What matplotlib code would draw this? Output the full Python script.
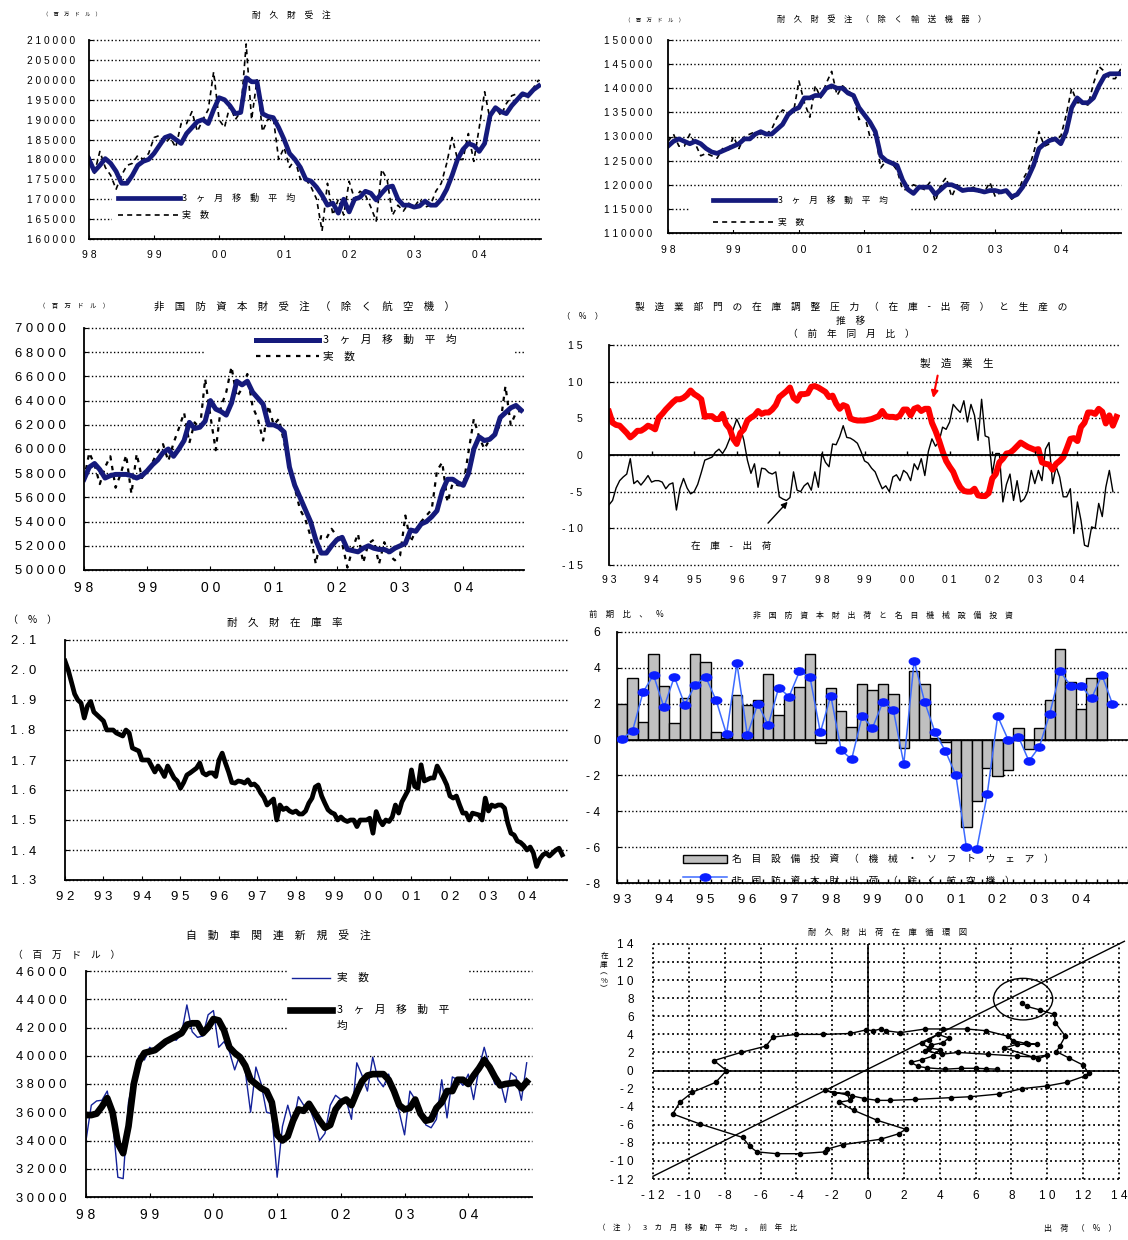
import numpy as np
import matplotlib.pyplot as plt
from matplotlib.lines import Line2D
from matplotlib.patches import Ellipse, Rectangle
from matplotlib.path import Path
from matplotlib.transforms import Affine2D

W, H = 1128, 1240
JP = ['Noto Sans CJK JP', 'DejaVu Sans']
NUM = ['Liberation Sans', 'DejaVu Sans']
NAVY = '#151a7c'
BLUE_THIN = '#14229a'
DOT = dict(color='black', ls=':', lw=1.0)

# 耐久財受注 (百万ドル, 1998/01-2004/12)
dg_ma = [180000, 177000, 178500, 180200, 179000, 177000, 174000, 174000, 176000, 178500, 179500, 180000,
         181500, 183500, 185500, 186000, 185000, 184000, 186500, 188000, 189500, 190000, 189000, 192500,
         195500, 195000, 193500, 191500, 191800, 200500, 199500, 199500, 191500, 190800, 190500, 188000,
         185000, 181500, 180000, 178000, 175000, 174500, 173000, 171000, 168500, 169000, 166500, 170000,
         166800, 170000, 170500, 172000, 171500, 169800, 171500, 173000, 173300, 170000, 168500, 168500,
         168000, 168300, 169500, 168500, 168500, 170000, 172500, 176000, 180000, 182500, 184000, 183500,
         182000, 184000, 191000, 193000, 192000, 191500, 193500, 195000, 196500, 196000, 197500, 198500]
dg_act = [181000, 176500, 182000, 178000, 176000, 172500, 176000, 178500, 179000, 181000, 180000, 181500,
          185500, 186000, 184000, 185500, 183000, 189000, 189000, 192000, 187000, 190000, 192500, 202000,
          190000, 188000, 193500, 190000, 192000, 209000, 190000, 200000, 187000, 190000, 190500, 180000,
          183000, 178000, 180000, 175000, 175000, 173000, 170000, 162000, 174000, 166000, 170000, 166000,
          174500, 170000, 172000, 171000, 168000, 164500, 177500, 175000, 166000, 168500, 167000, 169000,
          168000, 170000, 168000, 168500, 172000, 174000, 179000, 185500, 180000, 180000, 186500, 179500,
          188000, 197000, 190000, 193000, 191000, 194000, 196000, 196500, 196000, 195500, 198000, 200000]

# 耐久財受注 (除く輸送機器)
xt_ma = [128000, 129000, 129500, 129000, 128500, 129000, 128500, 127500, 126800, 126500, 127000, 127500,
         128000, 128500, 129500, 129500, 130500, 131000, 130500, 130500, 131500, 132500, 134500, 135500,
         136000, 138000, 138000, 138500, 138500, 140000, 140500, 140000, 140000, 139000, 138500, 136000,
         134500, 133000, 131000, 126000, 125000, 124500, 124000, 121000, 119000, 118200, 119500, 119500,
         119500, 118000, 119000, 120000, 120000, 119500, 118800, 119000, 119000, 118800, 118500, 118800,
         118800, 118500, 118800, 117500, 118000, 119500, 121500, 124000, 127500, 128500, 129200, 129500,
         128500, 131000, 136000, 138000, 137000, 137000, 138000, 140500, 142500, 143000, 143000, 143000]
xt_act = [129000, 130500, 128000, 128000, 130500, 128500, 126000, 126500, 126000, 125500, 127500, 127000,
          130000, 127500, 130000, 130500, 131000, 130500, 130500, 131500, 134000, 135500, 135000, 135000,
          141500, 137000, 134000, 140500, 138000, 141000, 143500, 138500, 140500, 139500, 138500, 133500,
          134500, 130000, 130500, 123500, 125000, 124500, 123000, 119000, 119000, 120000, 119500, 119000,
          120500, 116500, 120000, 121500, 117500, 120000, 119000, 119000, 119500, 118500, 118500, 120500,
          117500, 118500, 119000, 117000, 118000, 121000, 123000, 126500, 131000, 128000, 128500, 130000,
          130000, 134500, 140000, 137000, 137000, 136500, 141000, 144500, 143500, 142000, 142000, 144000]

# 非国防資本財受注 (除く航空機)
cap_ma = [57500, 58500, 58800, 58300, 57600, 57800, 57900, 57900, 57900, 57800, 57600, 57800,
          58200, 58700, 59100, 59700, 60000, 59400, 60000, 60700, 62200, 61700, 61800, 62300,
          64000, 63300, 63100, 62800, 63800, 65600, 65300, 65600, 64700, 64200, 63700, 62000,
          62000, 61800, 61400, 58500, 57000, 56000, 55000, 54000, 52500, 51400, 51400, 52000,
          52500, 52700, 51700, 51600, 51500, 51800, 52000, 51800, 51700, 51700, 51500, 51800,
          52000, 52200, 53300, 53200, 53800, 54000, 54400, 54900, 56500, 57500, 57500, 57200,
          57000, 58000, 60000, 61000, 60700, 60800, 61200, 62600, 63000, 63400, 63600, 63200]
cap_act = [57500, 59700, 58700, 57100, 58500, 59400, 56800, 58000, 59500, 56300, 59600, 57600,
           58300, 58900, 59800, 60400, 59000, 60500, 61700, 63000, 60500, 62200, 61700, 65800,
           62700, 59900, 63500, 64700, 66800, 64300, 65000, 66200, 63500, 62500, 60700, 63600,
           62000, 62500, 60500, 58500, 56800, 55000, 54200, 52800, 50500, 52800, 52600, 53400,
           52800, 52200, 50200, 51800, 53000, 50600, 52200, 52500, 50500, 52300, 51200, 50800,
           51200, 54500, 52300, 53300, 54000, 54500, 55000, 58200, 58900, 55600, 57200, 57000,
           57000, 59800, 62500, 61000, 60000, 60800, 61200, 62000, 65200, 62000, 63000, 63200]

# 製造業生産と在庫-出荷 (前年同月比 %, 1993/01-)
prod_yoy = [5.9, 4.4, 4.1, 4.0, 3.5, 3.0, 2.4, 2.8, 3.3, 3.3, 3.6, 4.0,
            3.8, 3.5, 5.1, 5.6, 6.2, 6.7, 7.2, 7.6, 7.6, 7.8, 8.2, 8.8,
            8.3, 8.0, 7.6, 5.2, 5.3, 5.3, 4.9, 4.9, 5.6, 4.2, 3.6, 2.2,
            1.5, 3.0, 3.5, 4.7, 5.1, 5.4, 6.0, 5.6, 5.8, 5.8, 6.2, 6.8,
            7.9, 8.3, 8.7, 9.2, 7.8, 7.4, 8.3, 8.3, 8.4, 9.3, 9.4, 9.2,
            8.9, 8.6, 7.9, 8.1, 7.0, 6.3, 6.8, 6.6, 5.0, 4.8, 4.7, 4.7,
            4.7, 4.8, 4.9, 5.1, 5.3, 6.0, 5.3, 5.2, 5.2, 5.1, 5.4, 6.2,
            6.2, 5.4, 6.3, 6.5, 6.0, 6.3, 6.3, 4.4, 3.3, 2.0, 0.5, -0.8,
            -1.6, -2.3, -3.5, -4.4, -4.9, -5.0, -5.0, -4.6, -5.5, -5.6, -5.6, -5.2,
            -3.2, -2.6, -1.0, -0.5, 0.2, 0.3, 0.7, 1.2, 1.7, 1.4, 1.1, 0.9,
            0.7, 0.8, -1.0, -1.2, -1.3, -2.0, -1.2, -0.8, -0.3, 0.9, 2.2, 2.3,
            1.9, 3.8, 4.4, 5.8, 5.8, 5.6, 6.3, 5.9, 4.3, 5.4, 4.0, 5.2]
inv_gap = [-6.8, -6.2, -4.5, -3.5, -3.0, -2.6, -0.5, -3.9, -3.5, -4.1, -3.5, -2.8,
           -3.7, -3.5, -3.5, -3.7, -4.6, -4.0, -3.8, -7.5, -4.6, -3.2, -4.5, -5.3,
           -5.0, -4.0, -2.4, -0.7, -0.5, -0.3, 0.4, 0.8, 0.2, 1.0, 2.2, 3.5,
           4.9, 3.8, 2.0, -0.7, -2.5, -1.2, -4.4, -1.8, -1.9, -2.4, -2.6, -2.3,
           -5.7, -6.0, -6.2, -5.8, -2.3, -4.8, -5.0, -4.2, -3.8, -4.8, -2.3, -4.4,
           0.2, -1.0, -1.6, 1.5, 1.4, 2.5, 4.0, 2.4, 2.3, 2.0, 1.6, 0.5,
           -0.8, -1.1, -1.8, -2.3, -3.5, -4.6, -4.2, -5.0, -3.0, -2.7, -3.5, -2.1,
           -2.5, -3.5, -1.2, -2.0, -0.5, -2.8, 0.5, 2.2, 1.2, 1.8, 3.8, 3.5,
           4.5, 6.9, 6.3, 5.8, 7.4, 4.5, 6.9, 5.4, 2.0, 7.6, 2.6, 2.4,
           -2.6, 0.2, 0.2, -6.4, -4.0, -2.6, -6.2, -3.5, -6.4, -6.0, -5.0, -2.1,
           -3.9, -2.1, -3.5, 0.8, 1.7, -3.9, -1.6, -3.0, -5.7, -5.7, -4.6, -10.7,
           -6.4, -8.9, -12.3, -12.5, -9.8, -10.0, -6.6, -8.4, -4.4, -2.1, -5.0]

# 耐久財在庫率 (1992/01-2004/12)
inv_ratio = [2.03, 2.00, 1.96, 1.92, 1.90, 1.89, 1.84, 1.88, 1.895, 1.86, 1.85, 1.84,
             1.83, 1.80, 1.80, 1.80, 1.79, 1.785, 1.78, 1.80, 1.79, 1.74, 1.735, 1.73,
             1.70, 1.70, 1.70, 1.68, 1.66, 1.68, 1.665, 1.645, 1.68, 1.66, 1.64, 1.63,
             1.606, 1.625, 1.65, 1.657, 1.665, 1.673, 1.69, 1.657, 1.65, 1.657, 1.657, 1.645,
             1.70, 1.723, 1.69, 1.66, 1.625, 1.623, 1.63, 1.628, 1.623, 1.634, 1.617, 1.62,
             1.61, 1.59, 1.575, 1.55, 1.56, 1.57, 1.50, 1.55, 1.535, 1.54, 1.53, 1.525,
             1.53, 1.52, 1.52, 1.53, 1.556, 1.573, 1.61, 1.617, 1.58, 1.556, 1.534, 1.525,
             1.52, 1.50, 1.51, 1.50, 1.495, 1.50, 1.50, 1.478, 1.50, 1.50, 1.50, 1.506,
             1.456, 1.528, 1.50, 1.484, 1.50, 1.495, 1.51, 1.55, 1.523, 1.56, 1.58, 1.60,
             1.667, 1.612, 1.606, 1.684, 1.63, 1.635, 1.64, 1.64, 1.68, 1.66, 1.64, 1.617,
             1.58, 1.573, 1.58, 1.55, 1.523, 1.523, 1.50, 1.523, 1.52, 1.517, 1.50, 1.573,
             1.53, 1.55, 1.545, 1.55, 1.55, 1.54, 1.49, 1.456, 1.45, 1.43, 1.425, 1.415,
             1.40, 1.41, 1.39, 1.345, 1.37, 1.384, 1.39, 1.38, 1.39, 1.40, 1.406, 1.384]

# 前期比 % (四半期, 1993Q1-)
capex_q = [2.0, 3.45, 1.0, 4.8, 3.0, 0.9, 2.3, 4.8, 4.35, 0.45, 0.1, 2.5,
           1.95, 2.2, 3.65, 1.35, 2.3, 2.95, 4.8, -0.2, 2.85, 1.6, 0.7, 3.1,
           2.75, 3.1, 2.55, -0.45, 3.85, 3.1, 0.1, -0.15, -2.0, -4.9, -3.45, -1.6,
           -2.05, -1.7, 0.65, -0.55, 0.65, 2.2, 5.05, 3.2, 1.7, 3.45, 3.7]
ship_q = [0.05, 0.5, 2.65, 3.6, 1.8, 3.5, 1.95, 3.05, 3.5, 2.2, 0.3, 4.25,
          0.25, 2.0, 0.8, 2.9, 2.4, 3.8, 3.5, 0.4, 2.45, -0.6, -1.1, 1.3,
          0.65, 2.1, 1.65, -1.35, 4.4, 2.1, 0.4, -0.65, -2.0, -6.0, -6.1, -3.05,
          1.3, 0.0, 0.15, -1.2, -0.4, 1.45, 3.8, 3.0, 3.0, 2.3, 3.6, 2.0]
quarter_years = list(range(1993, 2005))

# 自動車関連新規受注 (百万ドル, 1998/01-2004/12)
auto_act = [34000, 36500, 36800, 36850, 37500, 35500, 31400, 31300, 36700, 38500, 40000, 39700,
            40600, 40300, 40500, 40800, 41200, 41100, 41600, 43600, 41700, 41300, 41400, 42900,
            43200, 40600, 41000, 40300, 39000, 40100, 38900, 36000, 39200, 38000, 36000, 35900,
            31400, 35000, 36500, 35100, 37100, 36500, 36400, 35400, 34000, 34500, 36500, 37200,
            36900, 36850, 35500, 39500, 38600, 37500, 39900, 38300, 37800, 38700, 37300, 36000,
            34400, 37500, 36900, 36300, 35100, 34900, 35500, 38300, 35600, 38500, 38300, 37900,
            38700, 36900, 39100, 40600, 39200, 38000, 38200, 36700, 38800, 38500, 36850, 39500]
auto_ma = [35800, 35800, 35900, 36400, 37000, 36000, 33800, 33100, 35000, 38000, 39600, 40200,
           40300, 40400, 40700, 41000, 41200, 41400, 41600, 42200, 42300, 42300, 41600, 42000,
           42600, 42500, 41800, 40600, 40200, 39900, 39300, 38300, 38000, 37700, 37500, 36700,
           34400, 34000, 34300, 35400, 36200, 36100, 36600, 36000, 35400, 34900, 35100, 36200,
           36700, 36900, 36500, 37400, 38200, 38600, 38700, 38700, 38700, 38300, 37500, 36500,
           36200, 36300, 36900, 35900, 35400, 35500, 36300, 36700, 37500, 37500, 38300, 38300,
           38000, 38600, 39100, 39700, 39200, 38500, 37900, 38000, 38050, 38100, 37700, 38150]

# 耐久財 出荷・在庫 (3カ月移動平均の前年比 %)
cyc_ship = [7.2, 6.6, 6.0, 5.2, 4.3, 3.3, 2.8, 2.4, 3.0, 3.6, 4.0, 3.4, 3.0, 3.4, 3.9, 4.5, 4.2, 3.5,
            3.2, 4.1, 5.0, 6.7, 8.3, 9.2, 10.0, 9.5, 7.6, 8.3, 8.9, 9.4, 8.8, 8.1, 7.8, 6.6, 5.5, 4.2,
            3.2, 1.8, 1.0, 0.7, 0.3, -0.1, -1.0, -2.5, -4.0, -5.3, -5.7, -7.1, -8.6, -7.9, -8.5, -9.8,
            -10.5, -10.9, -9.4, -7.0, -6.6, -6.2, -5.1, -3.8, -2.4, -2.3, -1.4, 0.7, 1.7, 2.1, 0.5, -0.8,
            -1.6, -1.0, -1.2, -1.9, -2.4, -0.9, -0.2, 0.5, 1.2, 2.6, 4.6, 5.7, 7.3, 8.6, 10.0, 11.1,
            12.1, 12.3, 12.0, 11.2, 10.5, 10.7, 11.0, 10.45, 10.4, 9.6, 8.85, 8.6]
cyc_inv = [0.15, 0.2, 0.25, 0.25, 0.15, 0.3, 0.45, 0.9, 1.2, 1.6, 2.3, 2.5, 3.0, 3.4, 4.0, 3.6, 3.1, 2.8,
           2.2, 1.8, 2.0, 1.8, 1.6, 1.5, 1.7, 1.3, 2.5, 2.9, 2.9, 2.9, 3.0, 3.3, 3.8, 4.4, 4.6, 4.6,
           4.6, 4.2, 4.4, 4.6, 4.4, 4.5, 4.1, 4.0, 4.0, 3.7, 2.7, 2.0, 1.1, 0.0, -1.3, -2.4,
           -3.5, -4.8, -5.9, -7.4, -8.4, -9.0, -9.2, -9.2, -9.0, -8.7, -8.2, -7.6, -7.0, -6.5, -5.5, -4.4,
           -3.5, -3.3, -2.5, -2.5, -2.2, -2.8, -3.1, -3.3, -3.3, -3.2, -3.0, -2.9, -2.6, -2.0, -1.7, -1.3,
           -0.6, -0.3, 0.6, 1.4, 2.1, 2.7, 3.8, 5.3, 6.2, 6.7, 7.1, 7.5]
diag_x = [-12, 14.3]
diag_y = [-11.7, 14.3]


fig = plt.figure(figsize=(W / 100, H / 100), dpi=100)


def fx(x):
    return x / W


def fy(y):
    return 1 - y / H


def add_ax(x0, y0, x1, y1):
    # box given in pixels from the top-left corner
    return fig.add_axes([fx(x0), fy(y1), (x1 - x0) / W, (y1 - y0) / H])


def sp(s):
    return '\u3000'.join(s)


def ds(s):
    return ' '.join(s)


def put(x, y, s, size, ha='center', va='center', **kw):
    fig.text(fx(x), fy(y), s, fontsize=size, family=JP, ha=ha, va=va, **kw)


def months(start, n):
    return start + np.arange(n) / 12


def value_axis(ax, ticks, size, pad, fmt=str):
    ticks = list(ticks)
    ax.set_ylim(ticks[0], ticks[-1])
    ax.set_yticks(ticks)
    ax.set_yticklabels([ds(fmt(t)) for t in ticks], family=NUM, fontsize=size)
    ax.tick_params(axis='y', direction='in', length=3, pad=pad)
    ax.grid(axis='y', clip_on=False, **DOT)
    ax.set_axisbelow(True)
    ax.spines[['top', 'right']].set_visible(False)
    ax.spines[['left', 'bottom']].set_linewidth(1.3)


def year_axis(ax, first, last, xmax, size, pad):
    yrs = np.arange(first, last + 1)
    ax.set_xlim(first, xmax)
    ax.set_xticks(yrs)
    ax.set_xticklabels([ds(f'{y % 100:02d}') for y in yrs], family=NUM, fontsize=size)
    ax.tick_params(axis='x', direction='in', length=3, pad=pad)


def blank(ax, x0, y0, x1, y1):
    # white patch behind a key, hides the grid there
    ax.add_patch(Rectangle((fx(x0), fy(y1)), (x1 - x0) / W, (y1 - y0) / H,
                           transform=fig.transFigure, facecolor='white',
                           edgecolor='none', zorder=1, clip_on=False))


def key(x0, x1, y, **kw):
    fig.add_artist(Line2D([fx(x0), fx(x1)], [fy(y), fy(y)], transform=fig.transFigure, **kw))


# --- 耐久財受注 ---
ax1 = add_ax(89, 40, 541, 239)
ax1.plot(months(1998, len(dg_act)), dg_act, color='black', lw=1.2, ls=(0, (3, 2.5)))
ax1.plot(months(1998, len(dg_ma)), dg_ma, color=NAVY, lw=3.4)
value_axis(ax1, range(160000, 210001, 5000), 7.3, 10)
year_axis(ax1, 1998, 2004, 2004.95, 7.5, 8)
blank(ax1, 112, 189, 318, 227)
key(118, 180, 198, color=NAVY, lw=3.4)
key(118, 180, 215, color='black', lw=1.2, ls=(0, (3, 2.5)))
put(182, 198, sp('3ヶ月移動平均'), 6.5, ha='left')
put(182, 215, sp('実数'), 6.5, ha='left')
put(291, 15, sp('耐久財受注'), 6.3)
put(72, 15, sp('（百万ドル）'), 3.8)

# --- 耐久財受注 (除く輸送機器) ---
ax2 = add_ax(668, 40, 1121, 233)
ax2.plot(months(1998, len(xt_act)), xt_act, color='black', lw=1.2, ls=(0, (3, 2.5)))
ax2.plot(months(1998, len(xt_ma)), xt_ma, color=NAVY, lw=3.4)
value_axis(ax2, range(110000, 150001, 5000), 7.3, 11.5)
year_axis(ax2, 1998, 2004, 2004.92, 7.5, 8.5)
blank(ax2, 690, 190, 910, 230)
key(713, 775, 200, color=NAVY, lw=3.4)
key(713, 775, 222, color='black', lw=1.2, ls=(0, (3, 2.5)))
put(778, 200, sp('3ヶ月移動平均'), 6.3, ha='left')
put(778, 222, sp('実数'), 6.3, ha='left')
put(882, 19, sp('耐久財受注（除く輸送機器）'), 6.0)
put(655, 21, sp('（百万ドル）'), 3.9)

# --- 非国防資本財受注 (除く航空機) ---
ax3 = add_ax(84, 328, 524, 570)
ax3.plot(months(1998, len(cap_act)), cap_act, color='black', lw=1.6, ls=(0, (2, 2.5)))
ax3.plot(months(1998, len(cap_ma)), cap_ma, color=NAVY, lw=3.6)
value_axis(ax3, range(50000, 70001, 2000), 9.4, 13)
year_axis(ax3, 1998, 2004, 2004.96, 10, 8)
blank(ax3, 204, 331, 514, 372)
key(256, 319, 340, color=NAVY, lw=3.6)
key(256, 319, 356, color='black', lw=1.6, ls=(0, (2, 2.5)))
put(323, 340, sp('3ヶ月移動平均'), 7.7, ha='left')
put(323, 357, sp('実数'), 7.7, ha='left')
put(304, 307, sp('非国防資本財受注（除く航空機）'), 7.5)
put(74, 306, sp('（百万ドル）'), 4.6)

# --- 在庫調整圧力と生産 ---
ax4 = add_ax(609, 345, 1120, 565)
ax4.plot(months(1993, len(inv_gap)), inv_gap, color='black', lw=1)
ax4.plot(months(1993, len(prod_yoy)), prod_yoy, color='red', lw=4.3)
value_axis(ax4, [-15, -10, -5, 0, 5, 10, 15], 7.6, 19)
year_axis(ax4, 1993, 2004, 2005, 7.5, 7)
ax4.tick_params(axis='x', length=0)
ax4.spines['bottom'].set_visible(False)
ax4.axhline(0, color='black', lw=1.3)
ax4.vlines(np.arange(1994, 2005), 0, 0.6, color='black', lw=1)
ax4.annotate('', xy=(2000.60, 7.4), xytext=(2000.73, 11.2),
             arrowprops=dict(arrowstyle='-|>', color='red', lw=1.5, mutation_scale=10))
ax4.text(2001.17, 12.5, sp('製造業生'), fontsize=7.6, family=JP, ha='center', va='center')
ax4.annotate('', xy=(1997.24, -6.1), xytext=(1996.69, -9.57),
             arrowprops=dict(arrowstyle='-|>', color='black', lw=1, mutation_scale=9))
ax4.text(1995.88, -12.5, sp('在庫-出荷'), fontsize=6.9, family=JP, ha='center', va='center')
put(851, 307, sp('製造業部門の在庫調整圧力（在庫-出荷）と生産の'), 7.0)
put(851, 321, sp('推移'), 7.0)
put(851, 334, sp('（前年同月比）'), 7.0)
put(583, 316, sp('（%）'), 6.0)

# --- 耐久財在庫率 ---
ax5 = add_ax(65, 640, 567, 880)
ax5.plot(months(1992, len(inv_ratio)), inv_ratio, color='black', lw=3.4)
value_axis(ax5, np.round(np.arange(1.3, 2.11, 0.1), 1), 9.4, 21, fmt=lambda v: f'{v:.1f}')
year_axis(ax5, 1992, 2004, 2005.04, 9.5, 8)
put(285, 623, sp('耐久財在庫率'), 7.6)
put(33, 620, sp('（%）'), 7.2)

# --- 非国防資本財出荷と名目機械設備投資 ---
ax6 = add_ax(617, 632, 1128, 883)
oval = Path.unit_circle().transformed(Affine2D().scale(1.45, 1.0))
ax6.bar(np.arange(len(capex_q)), capex_q, width=1.0, color='#c0c0c0', edgecolor='black', lw=1, zorder=2)
ax6.plot(np.arange(len(ship_q)), ship_q, color='#3d6bff', lw=1.1, marker=oval, ms=7.5,
         mfc='#0a1eff', mec='#0a1eff', zorder=3)
value_axis(ax6, range(-8, 7, 2), 8.7, 12)
ax6.set_xlim(-0.5, 48.5)
ax6.set_xticks(np.arange(len(quarter_years)) * 4)
ax6.set_xticklabels([ds(f'{y % 100:02d}') for y in quarter_years], family=NUM, fontsize=9.5)
ax6.set_xticks(np.arange(-0.5, 48.6, 1), minor=True)
ax6.tick_params(axis='x', which='major', length=0, pad=8)
ax6.tick_params(axis='x', which='minor', direction='in', length=3, width=1)
ax6.axhline(0, color='black', lw=1.2)
fig.add_artist(Rectangle((fx(683), fy(863)), 44 / W, 8 / H, transform=fig.transFigure,
                         facecolor='#c0c0c0', edgecolor='black', lw=1))
key(683, 727, 877, color='#3d6bff', lw=1.1)
fig.add_artist(Line2D([fx(705)], [fy(877)], transform=fig.transFigure, ls='none', marker=oval,
                      ms=7.5, mfc='#0a1eff', mec='#0a1eff'))
ax6.text(fx(732), fy(859), sp('名目設備投資（機械・ソフトウェア）'), transform=fig.transFigure,
         fontsize=7, family=JP, va='center', clip_on=True)
ax6.text(fx(732), fy(881), sp('非国防資本財出荷（除く航空機）'), transform=fig.transFigure,
         fontsize=7, family=JP, va='center', clip_on=True)
put(883, 615, sp('非国防資本財出荷と名目機械設備投資'), 5.7)
put(626, 614, sp('前期比、%'), 6.0)

# --- 自動車関連新規受注 ---
ax7 = add_ax(86, 971, 532, 1197)
ax7.plot(months(1998, len(auto_act)), auto_act, color=BLUE_THIN, lw=1)
ax7.plot(months(1998, len(auto_ma)), auto_ma, color='black', lw=4.8)
value_axis(ax7, range(30000, 46001, 2000), 9.3, 14)
year_axis(ax7, 1998, 2004, 2005, 10, 8)
blank(ax7, 287, 962, 467, 1040)
key(292, 330, 978, color=BLUE_THIN, lw=1)
key(290, 332, 1010, color='black', lw=4.8)
put(337, 978, sp('実数'), 7.7, ha='left')
put(337, 1010, sp('3ヶ月移動平'), 7.7, ha='left')
put(337, 1026, '均', 7.7, ha='left')
put(278, 935, sp('自動車関連新規受注'), 7.8)
put(67, 955, sp('（百万ドル）'), 7.0)

# --- 耐久財出荷在庫循環図 ---
ax8 = add_ax(653, 944, 1119, 1179)
ticks8 = list(range(-12, 15, 2))
ax8.set_xlim(-12, 14)
ax8.set_ylim(-12, 14)
ax8.set_xticks(ticks8)
ax8.set_yticks(ticks8)
ax8.set_xticklabels([ds(str(v)) for v in ticks8], family=NUM, fontsize=8.5)
ax8.set_yticklabels([ds(str(v)) for v in ticks8], family=NUM, fontsize=8.5)
ax8.tick_params(length=0)
ax8.tick_params(axis='x', pad=8)
ax8.tick_params(axis='y', pad=14)
ax8.grid(color='black', ls=':', lw=1.3, clip_on=False)
ax8.set_axisbelow(True)
for s in ax8.spines.values():
    s.set_visible(False)
ax8.axhline(0, color='black', lw=1.2)
ax8.axvline(0, color='black', lw=1.2)
ax8.plot(diag_x, diag_y, color='black', lw=1, clip_on=False)
ax8.add_patch(Ellipse((8.65, 7.9), 3.3, 4.6, fill=False, ec='black', lw=1))
ax8.plot(cyc_ship, cyc_inv, color='black', lw=1, marker='o', ms=3)
put(888, 932, sp('耐久財出荷在庫循環図'), 6.0)
put(604, 973, '在\n庫\n︵\n%\n︶', 5.5, linespacing=1.05)
put(598, 1228, sp('（注）3カ月移動平均。前年比'), 5.4, ha='left')
put(1117, 1228, sp('出荷（%）'), 5.9, ha='right')

fig.savefig('out.png', dpi=100)
